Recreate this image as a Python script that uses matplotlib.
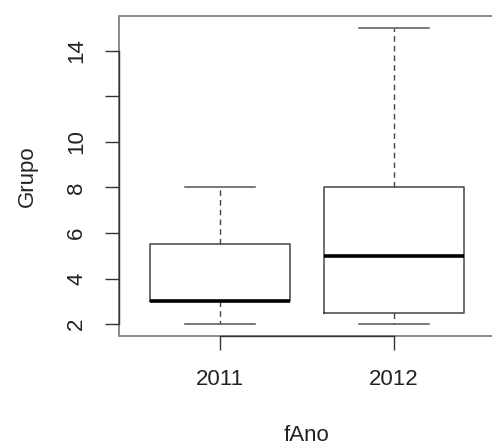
import matplotlib
matplotlib.use("Agg")
import matplotlib.pyplot as plt

# data (R style boxplot)
years = ["2011", "2012"]
whisk_low = [2, 2]
q1 = [3, 2.5]
medians = [3, 5]
q3 = [5.5, 8]
whisk_high = [8, 15]

yticks = [2, 4, 6, 8, 10, 12, 14]
ytick_labels = ["2", "4", "6", "8", "10", "", "14"]

plt.rcParams["font.family"] = ["Liberation Sans", "DejaVu Sans"]

fig = plt.figure(figsize=(4.92, 4.46), dpi=100, facecolor="white")
ax = fig.add_axes([119 / 492, 1 - 336 / 446, 376 / 492, 320 / 446])

stats = []
for i in range(len(years)):
    stats.append({"label": years[i], "whislo": whisk_low[i], "q1": q1[i],
                  "med": medians[i], "q3": q3[i], "whishi": whisk_high[i],
                  "fliers": []})

ax.bxp(stats, positions=[1, 2], widths=0.8, showfliers=False,
       boxprops=dict(color="#444444", linewidth=1.1),
       medianprops=dict(color="black", linewidth=2.6),
       whiskerprops=dict(color="#444444", linewidth=1.0, linestyle=(0, (4, 3))),
       capprops=dict(color="#555555", linewidth=1.1), capwidths=0.4)

ax.set_xlim(0.42, 2.58)
ax.set_ylim(1.48, 15.52)

# frame like R's box(), axis lines only between first and last tick
ax.patch.set_edgecolor("#777777")
ax.patch.set_linewidth(1.2)
for s in ["top", "right"]:
    ax.spines[s].set_visible(False)
ax.spines["left"].set_bounds(2, 14)
ax.spines["bottom"].set_bounds(1, 2)
for s in ["left", "bottom"]:
    ax.spines[s].set_color("#333333")
    ax.spines[s].set_linewidth(1.0)

ax.set_yticks(yticks)
ax.set_yticklabels(ytick_labels, rotation=90, va="center")
ax.set_xticks([1, 2])
ax.set_xticklabels(years)
ax.tick_params(axis="both", length=10, width=1.0, color="#333333",
               labelsize=16, labelcolor="#222222")
ax.tick_params(axis="y", pad=13)
ax.tick_params(axis="x", pad=14)

ax.set_ylabel("Grupo", fontsize=16, color="#222222", labelpad=20)
ax.set_xlabel("fAno", fontsize=16, color="#222222", labelpad=25)

fig.savefig("out.png", dpi=100)
